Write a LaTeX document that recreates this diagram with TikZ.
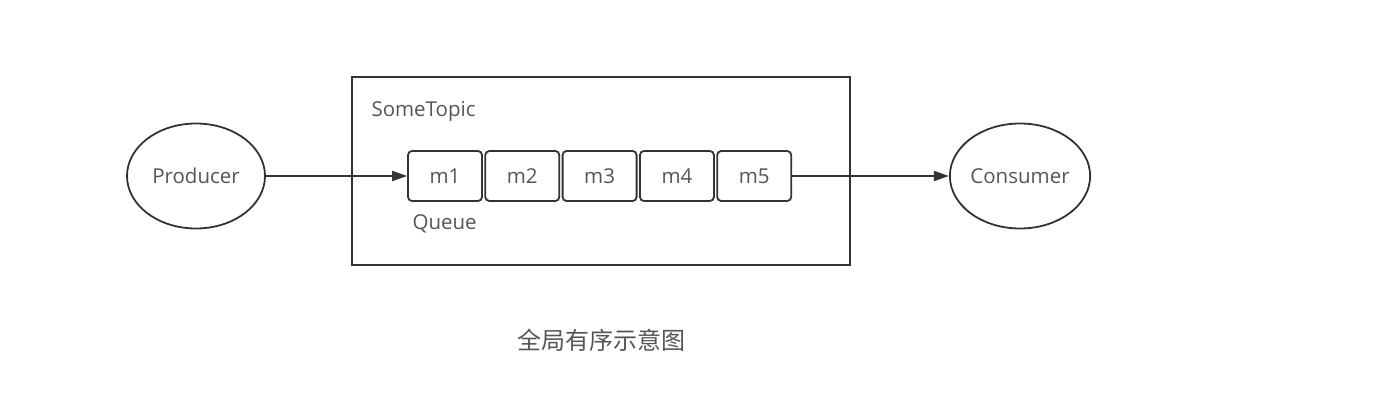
\documentclass[tikz,border=0pt]{standalone}
\usepackage{fontspec}
\setmainfont{Open Sans}
\newfontfamily\cjk{Noto Sans CJK SC}
\usetikzlibrary{shapes.geometric, arrows.meta, positioning}
\definecolor{linegray}{HTML}{333333}
\definecolor{textgray}{HTML}{555555}
\tikzstyle{arrow} = [line width=1.8pt, linegray, -{Triangle[length=15pt,width=10pt]}]
\tikzstyle{label} = [text=textgray, font=\fontsize{20.5}{24}\selectfont]
\tikzstyle{client} = [ellipse, draw=linegray, line width=1.8pt, inner sep=0pt, minimum width=138pt, minimum height=105pt, label]
\tikzstyle{msg} = [rectangle, rounded corners=4pt, draw=linegray, line width=1.8pt, minimum width=74pt, minimum height=50pt, label]

\begin{document}
\begin{tikzpicture}[x=1pt, y=-1pt]
    \useasboundingbox (0,0) rectangle (1386,417);

    % Topic box
    \node[draw=linegray, line width=1.8pt, minimum width=498pt, minimum height=188pt] (topic) at (601,171) {};
    \node[anchor=west, label] (topicname) at (368,111) {SomeTopic};

    % Queue
    \node[msg] (m1) at (445,176) {m1};
    \node[msg, right=1.5pt of m1] (m2) {m2};
    \node[msg, right=1.5pt of m2] (m3) {m3};
    \node[msg, right=1.5pt of m3] (m4) {m4};
    \node[msg, right=1.5pt of m4] (m5) {m5};
    \node[anchor=west, label] (queuename) at (409,224) {Queue};

    % Clients
    \node[client] (producer) at (196,176) {Producer};
    \node[client] (consumer) at (1020,176) {Consumer};

    % Arrows
    \draw[arrow] (producer) -- (m1);
    \draw[arrow] (m5) -- (consumer);

    % Caption
    \node[text=textgray, font=\cjk\fontsize{24}{28}\selectfont] (caption) at (601,340) {全局有序示意图};

\end{tikzpicture}
\end{document}
